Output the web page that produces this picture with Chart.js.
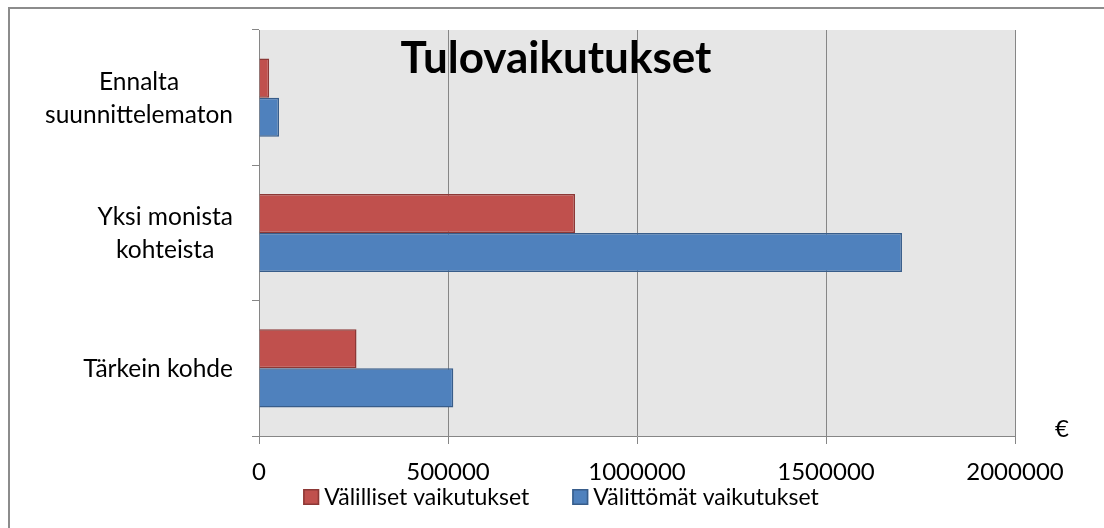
<!DOCTYPE html>
<html><head><meta charset="utf-8">
<script src="https://cdn.jsdelivr.net/npm/chart.js@4.4.1/dist/chart.umd.min.js"></script>
<style>html,body{margin:0;padding:0;background:#fff;} canvas{display:block;}</style>
</head><body>
<canvas id="c" width="1104" height="528"></canvas>
<script>
const categories = [["Ennalta", "suunnittelematon"], ["Yksi monista", "kohteista"], ["Tärkein kohde"]];
const seriesNames = ["Välilliset vaikutukset", "Välittömät vaikutukset"];
const indirectValues = [27000, 836000, 258000];
const directValues = [53000, 1701000, 514000];
const xTicks = [0, 500000, 1000000, 1500000, 2000000];
const chartTitle = "Tulovaikutukset";
const unitLabel = "€";

const colors = {
  redFill: '#C0504D', redBorder: '#8C3836',
  blueFill: '#4F81BD', blueBorder: '#385D8A',
  plotBg: '#E6E6E6', grid: '#868686', frame: '#8C8C8C'
};
const FONT = 'Lato';

const decor = {
  id: 'decor',
  beforeDraw(chart) {
    const {ctx, chartArea: a} = chart;
    ctx.save();
    ctx.fillStyle = '#fff';
    ctx.fillRect(0, 0, chart.width, chart.height);
    ctx.strokeStyle = colors.frame;
    ctx.lineWidth = 2;
    ctx.strokeRect(9, 8, chart.width + 20, chart.height + 20);
    ctx.fillStyle = colors.plotBg;
    ctx.fillRect(a.left, a.top, a.right - a.left, a.bottom - a.top);
    ctx.restore();
  },
  afterDraw(chart) {
    const {ctx} = chart;
    const ys = chart.scales.y;
    ctx.save();
    ctx.fillStyle = '#000';
    ctx.font = '24.5px ' + FONT;
    ctx.textBaseline = 'alphabetic';
    ctx.textAlign = 'center';
    categories.forEach((lines, i) => {
      const cy = ys.getPixelForValue(i);
      const w = Math.max(...lines.map(l => ctx.measureText(l).width));
      const right = ys.right - 26;
      const cx = right - w / 2;
      const lh = 33;
      lines.forEach((l, j) => {
        const by = cy + (j - (lines.length - 1) / 2) * lh + 8.5;
        ctx.fillText(l, cx, by);
      });
    });
    // title
    ctx.font = 'bold 44px ' + FONT;
    ctx.fillText(chartTitle, 556, 73);
    // unit label
    ctx.font = '24px ' + FONT;
    ctx.fillText(unitLabel, 1062, 437);
    // legend
    ctx.font = '23px ' + FONT;
    ctx.textAlign = 'left';
    const fills = [colors.redFill, colors.blueFill];
    const borders = [colors.redBorder, colors.blueBorder];
    const box = 16, gapBoxText = 5, gapItems = 43;
    const widths = seriesNames.map(n => ctx.measureText(n).width);
    const total = widths.reduce((s, w) => s + box + gapBoxText + w, 0) + gapItems;
    let x = 561 - total / 2;
    seriesNames.forEach((n, i) => {
      ctx.fillStyle = fills[i];
      ctx.fillRect(x, 489, box, box);
      ctx.strokeStyle = borders[i];
      ctx.lineWidth = 1.5;
      ctx.strokeRect(x + 0.75, 489.75, box - 1.5, box - 1.5);
      ctx.fillStyle = '#000';
      ctx.fillText(n, x + box + gapBoxText, 505);
      x += box + gapBoxText + widths[i] + gapItems;
    });
    ctx.restore();
  }
};

new Chart(document.getElementById('c'), {
  type: 'bar',
  data: {
    labels: categories,
    datasets: [
      {label: seriesNames[0], data: indirectValues, backgroundColor: colors.redFill, borderColor: colors.redBorder, borderWidth: 1.5},
      {label: seriesNames[1], data: directValues, backgroundColor: colors.blueFill, borderColor: colors.blueBorder, borderWidth: 1.5}
    ]
  },
  options: {
    indexAxis: 'y',
    responsive: false,
    animation: false,
    layout: {padding: {top: 30, right: 89, left: 0, bottom: 0}},
    datasets: {bar: {categoryPercentage: 0.577, barPercentage: 1}},
    plugins: {legend: {display: false}, title: {display: false}, tooltip: {enabled: false}},
    scales: {
      x: {
        min: 0, max: 2000000,
        afterBuildTicks: s => { s.ticks = xTicks.map(v => ({value: v})); },
        ticks: {callback: v => String(v), color: '#000', font: {family: FONT, size: 24}, padding: 14, maxRotation: 0, autoSkip: false},
        grid: {color: colors.grid, lineWidth: 1, tickLength: 8, drawTicks: true},
        border: {color: colors.grid, width: 1},
        afterFit: s => { s.height = 92; s.paddingLeft = 0; s.paddingRight = 0; }
      },
      y: {
        ticks: {display: false},
        grid: {offset: true, drawOnChartArea: false, color: colors.grid, tickLength: 7, drawTicks: true},
        border: {color: colors.grid, width: 1},
        afterFit: s => { s.width = 259; s.paddingTop = 0; s.paddingBottom = 0; }
      }
    }
  },
  plugins: [decor]
});
</script>
</body></html>
